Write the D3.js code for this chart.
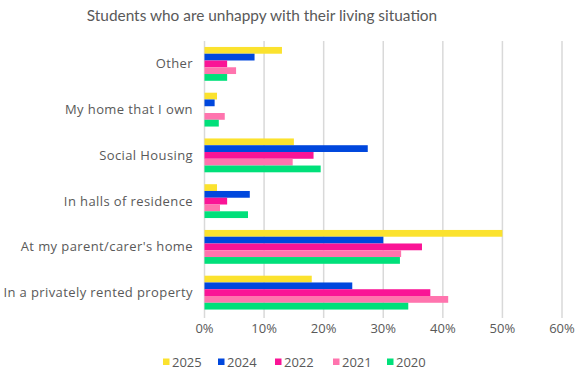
<!DOCTYPE html>
<html>
<head>
<meta charset="utf-8">
<script src="https://cdn.jsdelivr.net/npm/d3@7"></script>
<style>
  body { margin: 0; background: #fff; }
  text { font-family: "Open Sans", "Lato", sans-serif; fill: #595959; }
  .title { font-family: "Lato", "Open Sans", sans-serif; }
  .cat { letter-spacing: 0.4px; }
</style>
</head>
<body>
<div id="chart"></div>
<script>
// Students unhappy with living situation - grouped horizontal bars
const categories = [
  'Other',
  'My home that I own',
  'Social Housing',
  'In halls of residence',
  "At my parent/carer's home",
  'In a privately rented property'
];
const years = ['2025', '2024', '2022', '2021', '2020'];
const colors = ['#FBE22E', '#0047DD', '#FA1496', '#FF74AE', '#00E07A'];

// values in %, one array per year, same order as categories
const v2025 = [13, 2.1, 15, 2.1, 50, 18];
const v2024 = [8.4, 1.7, 27.4, 7.6, 30, 24.8];
const v2022 = [3.8, 0, 18.3, 3.8, 36.5, 37.9];
const v2021 = [5.3, 3.4, 14.8, 2.6, 33, 40.9];
const v2020 = [3.8, 2.4, 19.5, 7.3, 32.8, 34.2];
const series = [v2025, v2024, v2022, v2021, v2020];
const ticks = [0, 10, 20, 30, 40, 50, 60];

const width = 584, height = 375;
const margin = { top: 41, right: 22, bottom: 60, left: 204.5 };

const svg = d3.select('#chart').append('svg')
  .attr('width', width)
  .attr('height', height);

svg.append('text')
  .attr('class', 'title')
  .attr('x', 262)
  .attr('y', 21)
  .attr('text-anchor', 'middle')
  .style('font-size', '15.4px')
  .text('Students who are unhappy with their living situation');

const x = d3.scaleLinear()
  .domain([0, 60])
  .range([margin.left, margin.left + 357.5]);

const y = d3.scaleBand()
  .domain(categories)
  .range([margin.top, 315.5])
  .paddingInner(0.26)
  .paddingOuter(0.13);

const y1 = d3.scaleBand()
  .domain(years)
  .range([0, y.bandwidth()]);

// gridlines
svg.append('g')
  .selectAll('line')
  .data(ticks)
  .join('line')
  .attr('x1', d => x(d))
  .attr('x2', d => x(d))
  .attr('y1', margin.top)
  .attr('y2', 318)
  .attr('stroke', '#d9d9d9')
  .attr('stroke-width', 1.5);

// bars
const rows = categories.map((c, i) => ({
  cat: c,
  vals: years.map((yr, j) => ({ yr, v: series[j][i], color: colors[j] }))
}));

svg.append('g')
  .selectAll('g')
  .data(rows)
  .join('g')
  .attr('transform', d => `translate(0,${y(d.cat)})`)
  .selectAll('rect')
  .data(d => d.vals)
  .join('rect')
  .attr('x', x(0))
  .attr('y', d => y1(d.yr))
  .attr('width', d => x(d.v) - x(0))
  .attr('height', y1.bandwidth())
  .attr('fill', d => d.color);

// category labels
svg.append('g')
  .selectAll('text')
  .data(categories)
  .join('text')
  .attr('class', 'cat')
  .attr('x', 193)
  .attr('y', d => y(d) + y.bandwidth() / 2)
  .attr('dy', '0.35em')
  .attr('text-anchor', 'end')
  .style('font-size', '13px')
  .text(d => d);

// x tick labels
svg.append('g')
  .selectAll('text')
  .data(ticks)
  .join('text')
  .attr('x', d => x(d))
  .attr('y', 333)
  .attr('text-anchor', 'middle')
  .style('font-size', '13px')
  .text(d => d + '%');

// legend
const legendX = [163, 218, 275, 333, 387];
const legend = svg.append('g')
  .selectAll('g')
  .data(years)
  .join('g')
  .attr('transform', (d, i) => `translate(${legendX[i]},358.5)`);

legend.append('rect')
  .attr('width', 6.5)
  .attr('height', 6.5)
  .attr('fill', (d, i) => colors[i]);

legend.append('text')
  .attr('x', 9)
  .attr('y', 3.5)
  .attr('dy', '0.35em')
  .style('font-size', '13px')
  .text(d => d);
</script>
</body>
</html>
